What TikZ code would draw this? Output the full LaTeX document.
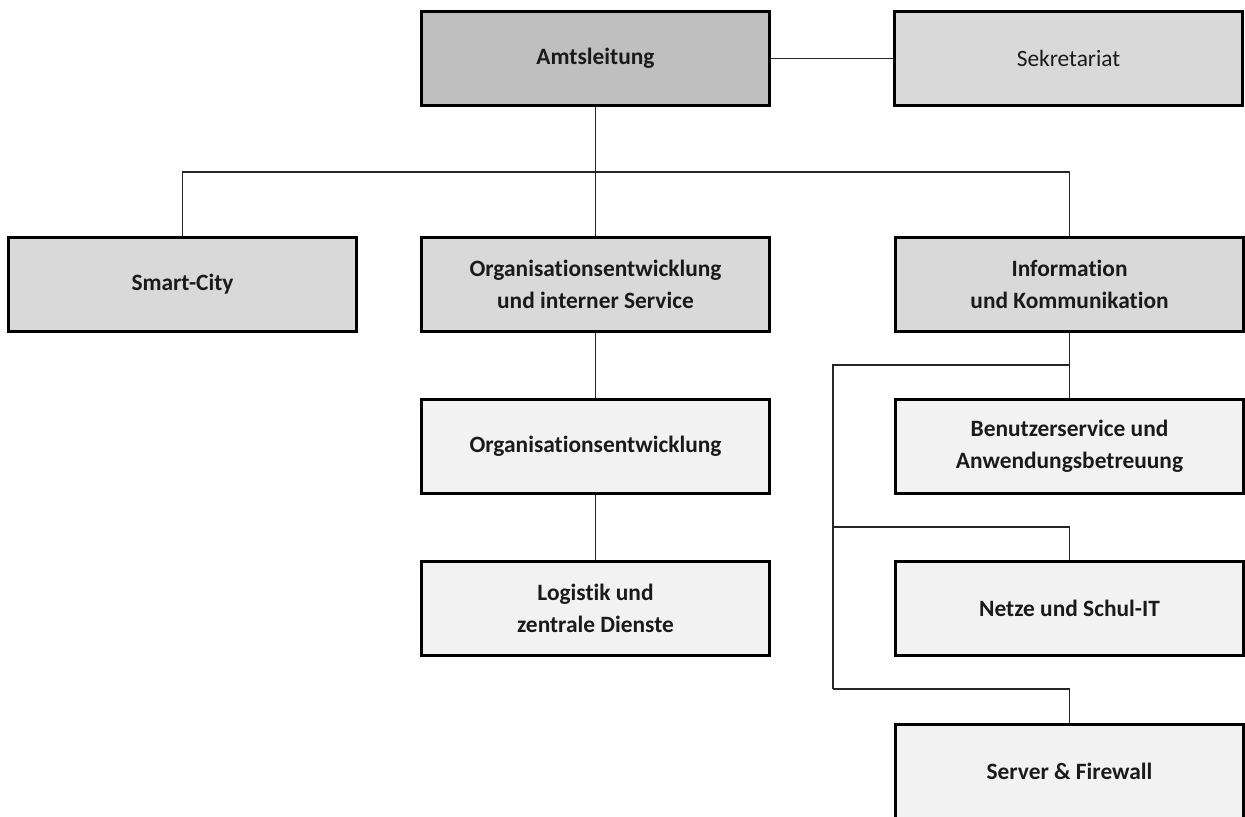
\documentclass[tikz,border=0pt]{standalone}
\usepackage{fontspec}
\setmainfont[Ligatures=NoCommon]{Carlito}
\usepackage{xcolor}
\usepackage{tikz}

\definecolor{headgray}{HTML}{BFBFBF}
\definecolor{midgray}{HTML}{D9D9D9}
\definecolor{lightgray}{HTML}{F2F2F2}
\definecolor{inkgray}{HTML}{1A1A1A}

\begin{document}
\begin{tikzpicture}[x=0.5pt, y=-0.5pt,
  unit/.style={rectangle, draw=black, line width=1.5pt, minimum width=174pt,
               minimum height=47pt, inner sep=2pt, align=center, text=inkgray,
               font=\fontsize{11.7}{16}\selectfont\bfseries},
  head/.style={unit, fill=headgray},
  dept/.style={unit, fill=midgray},
  team/.style={unit, fill=lightgray},
  staff/.style={unit, fill=midgray, font=\fontsize{11.7}{16}\selectfont},
  link/.style={draw=black!85, line width=0.7pt}]

  \useasboundingbox (0,0) rectangle (1245,816);

  %% Leitung
  \node[head]  (amt) at (595.5,58.5)  {Amtsleitung};
  \node[staff] (sek) at (1068.5,58.5) {Sekretariat};

  %% Abteilungen
  \node[dept] (smart) at (182.5,284.5)  {Smart-City};
  \node[dept] (oeis)  at (595.5,284.5)  {Organisationsentwicklung\\und interner Service};
  \node[dept] (iuk)   at (1069.5,284.5) {Information\\und Kommunikation};

  %% Sachgebiete
  \node[team] (oe)   at (595.5,446)  {Organisationsentwicklung};
  \node[team] (log)  at (595.5,608)  {Logistik und\\zentrale Dienste};
  \node[team] (ben)  at (1069.5,446) {Benutzerservice und\\Anwendungsbetreuung};
  \node[team] (netz) at (1069.5,608) {Netze und Schul-IT};
  \node[team] (srv)  at (1069.5,771) {Server \& Firewall};

  %% Hilfspunkte
  \coordinate (bus)  at (595.5,172);
  \coordinate (rail) at (833,365);

  %% Verbindungen
  \draw[link] (amt) -- (sek);
  \draw[link] (amt) -- (bus);
  \draw[link] (smart.north) |- (bus) -| (iuk.north);
  \draw[link] (bus) -- (oeis);
  \draw[link] (oeis) -- (oe);
  \draw[link] (oe) -- (log);
  \draw[link] (iuk) -- (ben);
  \draw[link] (ben.north |- rail) -- (rail) -- (rail |- 0,689);
  \draw[link] (rail |- 0,527) -| (netz.north);
  \draw[link] (rail |- 0,689) -| (srv.north);

\end{tikzpicture}
\end{document}
